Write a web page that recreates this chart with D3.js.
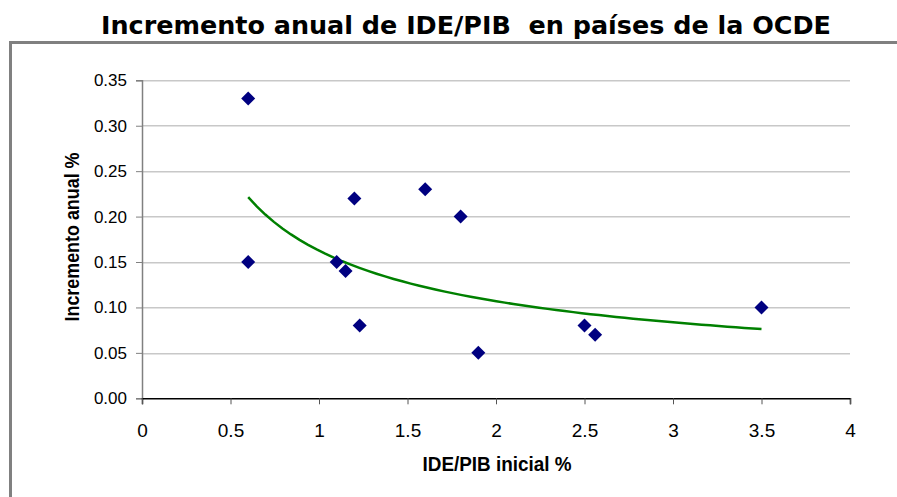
<!DOCTYPE html>
<html>
<head>
<meta charset="utf-8">
<script src="https://cdn.jsdelivr.net/npm/d3@7"></script>
<style>
  body { margin: 0; background: #fff; }
  svg { display: block; }
</style>
</head>
<body>
<div id="chart"></div>
<script>
// Data
const ideInicial = [0.6, 0.6, 1.1, 1.15, 1.2, 1.23, 1.6, 1.8, 1.9, 2.5, 2.56, 3.5];
const incrementoAnual = [0.33, 0.15, 0.15, 0.14, 0.22, 0.08, 0.23, 0.20, 0.05, 0.08, 0.07, 0.10];
const xTicks = [0, 0.5, 1, 1.5, 2, 2.5, 3, 3.5, 4];
const yTicks = [0, 0.05, 0.10, 0.15, 0.20, 0.25, 0.30, 0.35];
const titleText = "Incremento anual de IDE/PIB  en países de la OCDE";
const xLabel = "IDE/PIB inicial %";
const yLabel = "Incremento anual %";

const W = 897, H = 497;
const margin = {top: 80.3, right: 47, bottom: 98.7, left: 142};
const width = W - margin.left - margin.right;
const height = H - margin.top - margin.bottom;
const font = "'Liberation Sans', Arial, sans-serif";

const svg = d3.select("#chart").append("svg")
    .attr("width", W)
    .attr("height", H);

// title
svg.append("text")
    .attr("x", 466)
    .attr("y", 34)
    .attr("text-anchor", "middle")
    .attr("textLength", 730)
    .attr("lengthAdjust", "spacingAndGlyphs")
    .style("font-family", "'DejaVu Sans', sans-serif")
    .style("font-weight", "bold")
    .style("font-size", "25px")
    .style("white-space", "pre")
    .text(titleText);

// chart frame (only top and left edges are visible)
svg.append("path")
    .attr("d", `M10.5,${H} V42.5 H${W}`)
    .attr("fill", "none")
    .attr("stroke", "#808080")
    .attr("stroke-width", 3);

const g = svg.append("g")
    .attr("transform", `translate(${margin.left},${margin.top})`);

const x = d3.scaleLinear().domain([0, 4]).range([0, width]);
const y = d3.scaleLinear().domain([0, 0.35]).range([height, 0]);

// gridlines
g.selectAll(".grid")
    .data(yTicks.filter(d => d > 0))
    .enter()
    .append("line")
    .attr("x1", 0)
    .attr("x2", width)
    .attr("y1", d => Math.round(y(d)) + 0.5)
    .attr("y2", d => Math.round(y(d)) + 0.5)
    .attr("stroke", "#c8c8c8")
    .attr("stroke-width", 1.5);

// y axis
const yAxis = g.append("g")
    .call(d3.axisLeft(y).tickValues(yTicks).tickFormat(d3.format(".2f")).tickSize(6).tickPadding(9));
yAxis.select(".domain").attr("stroke", "#808080").attr("stroke-width", 1.5);
yAxis.selectAll(".tick line").attr("stroke", "#808080");
yAxis.selectAll("text")
    .style("font-family", font)
    .style("font-size", "17px")
    .attr("fill", "#000");

// x axis
const xAxis = g.append("g")
    .attr("transform", `translate(0,${height})`)
    .call(d3.axisBottom(x).tickValues(xTicks).tickFormat(d3.format("")).tickSize(6).tickPadding(33));
xAxis.select(".domain").attr("stroke", "#000").attr("stroke-width", 1.5);
xAxis.selectAll(".tick line").attr("stroke", "#555");
xAxis.selectAll("text")
    .attr("dy", 0)
    .style("font-family", font)
    .style("font-size", "19px")
    .attr("fill", "#000");

// power trend line (least squares on log-log, like a spreadsheet trendline)
const lx = ideInicial.map(Math.log);
const ly = incrementoAnual.map(Math.log);
const mx = d3.mean(lx), my = d3.mean(ly);
const b = d3.sum(lx, (v, i) => (v - mx) * (ly[i] - my)) / d3.sum(lx, v => (v - mx) * (v - mx));
const a = Math.exp(my - b * mx);
const [xMin, xMax] = d3.extent(ideInicial);
const trend = d3.range(0, 61).map(i => {
    const xv = xMin + (xMax - xMin) * i / 60;
    return [xv, a * Math.pow(xv, b)];
});

g.append("path")
    .datum(trend)
    .attr("fill", "none")
    .attr("stroke", "#008000")
    .attr("stroke-width", 2.5)
    .attr("d", d3.line().x(d => x(d[0])).y(d => y(d[1])));

// points
g.selectAll(".pt")
    .data(ideInicial.map((v, i) => ({x: v, y: incrementoAnual[i]})))
    .enter()
    .append("path")
    .attr("class", "pt")
    .attr("transform", d => `translate(${x(d.x)},${y(d.y)})`)
    .attr("d", "M0,-7L7,0L0,7L-7,0Z")
    .attr("fill", "#000080");

// axis titles
svg.append("text")
    .attr("x", 497)
    .attr("y", 471)
    .attr("text-anchor", "middle")
    .attr("textLength", 149)
    .attr("lengthAdjust", "spacingAndGlyphs")
    .style("font-family", font)
    .style("font-weight", "bold")
    .style("font-size", "20px")
    .text(xLabel);

svg.append("text")
    .attr("transform", "translate(79,237) rotate(-90)")
    .attr("text-anchor", "middle")
    .attr("textLength", 169)
    .attr("lengthAdjust", "spacingAndGlyphs")
    .style("font-family", font)
    .style("font-weight", "bold")
    .style("font-size", "20px")
    .text(yLabel);
</script>
</body>
</html>
